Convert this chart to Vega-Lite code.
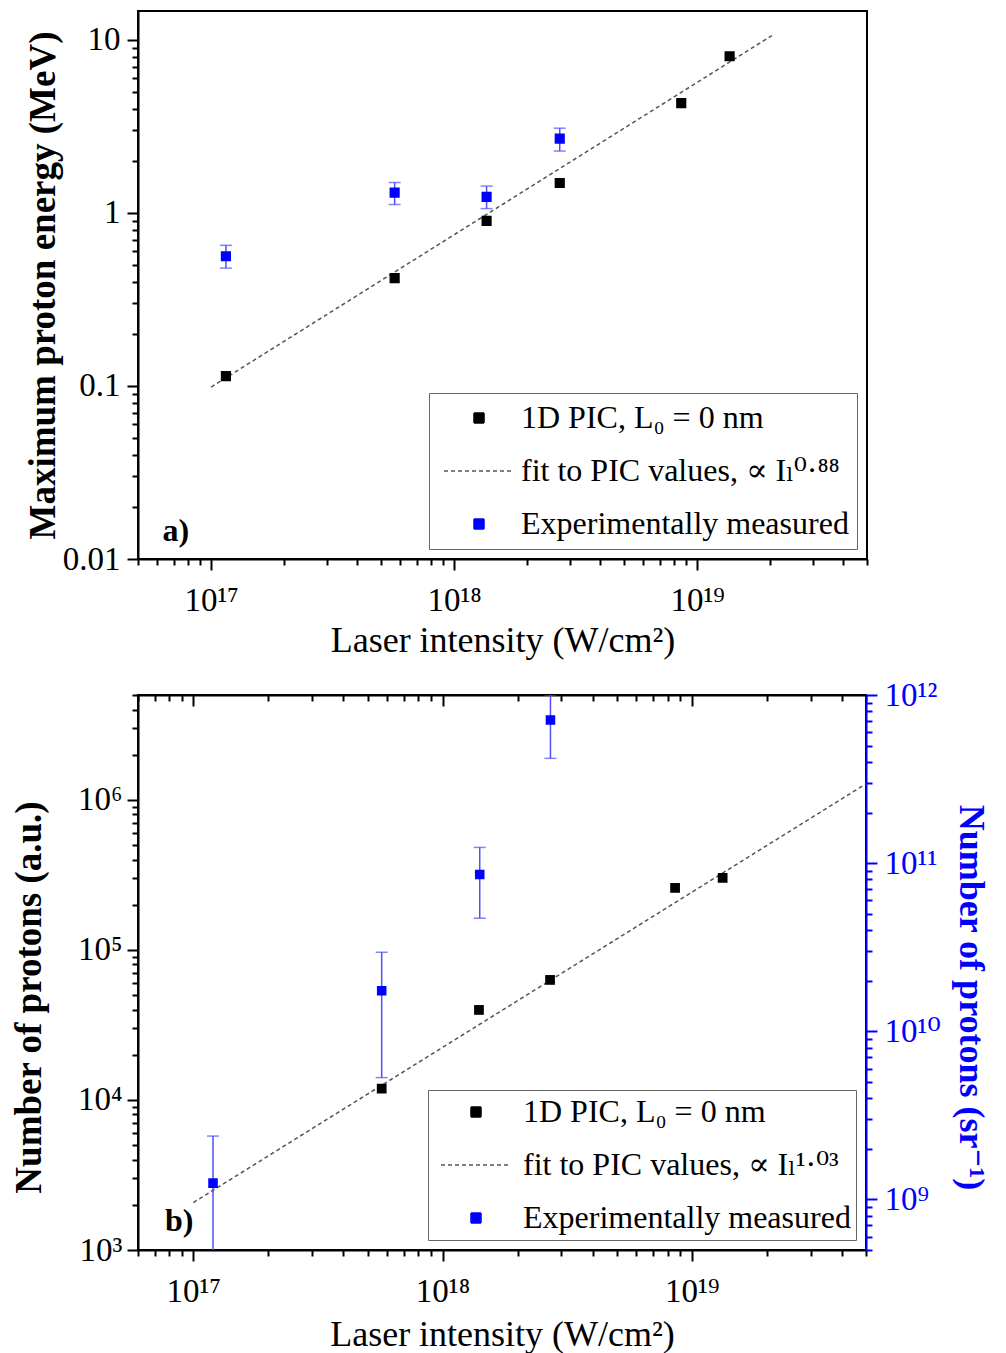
{
  "$schema": "https://vega.github.io/schema/vega-lite/v6.json",
  "padding": {"left": 9, "top": 10, "right": 12, "bottom": 0},
  "spacing": 19,
  "align": {"row": "none", "column": "each"},
  "resolve": {"scale": {"color": "independent", "stroke": "independent", "shape": "independent", "strokeDash": "independent"}, "legend": {"color": "independent", "stroke": "independent", "shape": "independent", "strokeDash": "independent"}},
  "config": {
    "font": "Liberation Serif, DejaVu Serif",
    "view": {"stroke": "black", "strokeWidth": 2},
    "axis": {
      "labelFont": "Liberation Serif, DejaVu Serif", "labelFontSize": 33, "labelColor": "black",
      "titleFont": "Liberation Serif, DejaVu Serif", "titleFontSize": 36, "titleColor": "black",
      "tickColor": "black", "tickWidth": 2, "domainColor": "black", "domainWidth": 2,
      "grid": false, "labelOverlap": false, "labelFlush": false, "labelBound": false
    },
    "legend": {"labelFont": "Liberation Serif, DejaVu Serif", "labelFontSize": 32, "labelColor": "black", "labelLimit": 600}
  },
  "datasets": {
    "top": [
      {"series": "pic", "intensity": 1.15e17, "value": 0.114},
      {"series": "pic", "intensity": 5.69e17, "value": 0.42},
      {"series": "pic", "intensity": 1.36e18, "value": 0.90},
      {"series": "pic", "intensity": 2.72e18, "value": 1.49},
      {"series": "pic", "intensity": 8.6e18, "value": 4.31},
      {"series": "pic", "intensity": 1.36e19, "value": 8.05},
      {"series": "exp", "intensity": 1.15e17, "value": 0.562, "lo": 0.48, "hi": 0.65},
      {"series": "exp", "intensity": 5.69e17, "value": 1.31, "lo": 1.12, "hi": 1.50},
      {"series": "exp", "intensity": 1.36e18, "value": 1.24, "lo": 1.06, "hi": 1.43},
      {"series": "exp", "intensity": 2.72e18, "value": 2.69, "lo": 2.28, "hi": 3.09},
      {"series": "fit", "intensity": 1e17, "value": 0.0986},
      {"series": "fit", "intensity": 2.03e19, "value": 10.6}
    ],
    "bottom": [
      {"series": "pic", "intensity": 5.7e17, "value": 11900},
      {"series": "pic", "intensity": 1.40e18, "value": 39800},
      {"series": "pic", "intensity": 2.70e18, "value": 63100},
      {"series": "pic", "intensity": 8.57e18, "value": 259000},
      {"series": "pic", "intensity": 1.33e19, "value": 302000},
      {"series": "exp", "intensity": 1.2e17, "value": 1.25e9, "lo": 1.2e8, "hi": 2.38e9},
      {"series": "exp", "intensity": 5.7e17, "value": 1.74e10, "lo": 5.3e9, "hi": 2.95e10},
      {"series": "exp", "intensity": 1.41e18, "value": 8.55e10, "lo": 4.7e10, "hi": 1.24e11},
      {"series": "exp", "intensity": 2.71e18, "value": 7.1e11, "lo": 4.2e11, "hi": 1.0e12},
      {"series": "fit", "intensity": 1e17, "value": 2070},
      {"series": "fit", "intensity": 5e19, "value": 1280000}
    ]
  },
  "vconcat": [
    {
      "width": 729,
      "height": 548,
      "data": {"name": "top"},
      "layer": [
        {
          "transform": [{"filter": "datum.series === 'fit'"}],
          "mark": {"type": "line", "color": "#555555", "strokeDash": [4, 3], "strokeWidth": 1.5},
          "encoding": {
            "x": {
              "field": "intensity", "type": "quantitative",
              "scale": {"type": "log", "domain": [5e16, 5e19], "nice": false},
              "axis": {
                "title": "Laser intensity (W/cm²)", "titleFontWeight": "normal", "titlePadding": 6,
                "values": [5e16, 6e16, 7e16, 8e16, 9e16, 1e17, 2e17, 3e17, 4e17, 5e17, 6e17, 7e17, 8e17, 9e17, 1e18, 2e18, 3e18, 4e18, 5e18, 6e18, 7e18, 8e18, 9e18, 1e19, 2e19, 3e19, 4e19, 5e19],
                "labelExpr": "abs(log(datum.value)/LN10 - round(log(datum.value)/LN10)) < 0.001 ? (round(log(datum.value)/LN10) == 17 ? '10¹⁷' : round(log(datum.value)/LN10) == 18 ? '10¹⁸' : '10¹⁹') : ''",
                "labelPadding": 14,
                "tickSize": {"expr": "abs(log(datum.value)/LN10 - round(log(datum.value)/LN10)) < 0.001 ? 11 : 6"}
              }
            },
            "y": {
              "field": "value", "type": "quantitative",
              "scale": {"type": "log", "domain": [0.01, 14.7], "nice": false},
              "axis": {
                "title": "Maximum proton energy (MeV)", "titleFontWeight": "bold", "titleFontSize": 37, "titlePadding": 0,
                "values": [0.01, 0.02, 0.03, 0.04, 0.05, 0.06, 0.07, 0.08, 0.09, 0.1, 0.2, 0.3, 0.4, 0.5, 0.6, 0.7, 0.8, 0.9, 1, 2, 3, 4, 5, 6, 7, 8, 9, 10],
                "labelExpr": "abs(log(datum.value)/LN10 - round(log(datum.value)/LN10)) < 0.001 ? (datum.value < 0.05 ? '0.01' : datum.value < 0.5 ? '0.1' : datum.value < 5 ? '1' : '10') : ''",
                "labelPadding": 7,
                "tickSize": {"expr": "abs(log(datum.value)/LN10 - round(log(datum.value)/LN10)) < 0.001 ? 11 : 6"}
              }
            }
          }
        },
        {
          "transform": [{"filter": "datum.series === 'exp'"}],
          "mark": {"type": "errorbar", "ticks": {"size": 12, "thickness": 1.5}, "color": "#4f4fff", "thickness": 1.5},
          "encoding": {
            "x": {"field": "intensity", "type": "quantitative", "title": "Laser intensity (W/cm²)"},
            "y": {"field": "lo", "type": "quantitative", "title": "Maximum proton energy (MeV)"},
            "y2": {"field": "hi"}
          }
        },
        {
          "transform": [{"filter": "datum.series !== 'fit'"}],
          "mark": {"type": "point", "filled": true, "size": 75, "strokeWidth": 1.5, "opacity": 1},
          "encoding": {
            "x": {"field": "intensity", "type": "quantitative", "title": "Laser intensity (W/cm²)"},
            "y": {"field": "value", "type": "quantitative", "title": "Maximum proton energy (MeV)"},
            "color": {
              "field": "series", "type": "nominal",
              "scale": {"domain": ["pic", "fit", "exp"], "range": ["black", "#555555", "blue"]},
              "legend": {
                "title": null, "orient": "bottom-right", "offset": 10, "padding": 8, "rowPadding": 19,
                "clipHeight": 34, "symbolSize": 100, "symbolStrokeWidth": 1.5, "symbolOffset": 26, "labelOffset": 26,
                "strokeColor": "#666666", "fillColor": "white",
                "labelExpr": "datum.value === 'pic' ? '1D PIC, L₀ = 0 nm' : datum.value === 'fit' ? 'fit to PIC values, ∝ Iₗ⁰·⁸⁸' : 'Experimentally measured'"
              }
            },
            "stroke": {
              "field": "series", "type": "nominal",
              "scale": {"domain": ["pic", "fit", "exp"], "range": ["black", "#555555", "blue"]},
              "legend": {"title": null, "orient": "bottom-right"}
            },
            "shape": {
              "field": "series", "type": "nominal",
              "scale": {"domain": ["pic", "fit", "exp"], "range": ["square", "M-7,0H7", "square"]},
              "legend": {"title": null, "orient": "bottom-right"}
            },
            "strokeDash": {
              "field": "series", "type": "nominal",
              "scale": {"domain": ["pic", "fit", "exp"], "range": [[1, 0], [4, 3], [1, 0]]},
              "legend": {"title": null, "orient": "bottom-right"}
            }
          }
        },
        {
          "data": {"values": [{"label": "a)"}]},
          "mark": {"type": "text", "fontSize": 32, "fontWeight": "bold", "align": "left", "baseline": "alphabetic", "color": "black"},
          "encoding": {
            "x": {"datum": 6.3e16, "type": "quantitative"},
            "y": {"datum": 0.0127, "type": "quantitative"},
            "text": {"field": "label"}
          }
        }
      ]
    },
    {
      "width": 728,
      "height": 555,
      "data": {"name": "bottom"},
      "resolve": {"scale": {"y": "independent"}, "axis": {"x": "independent"}},
      "layer": [
        {
          "layer": [
            {
              "transform": [{"filter": "datum.series === 'fit'"}],
              "mark": {"type": "line", "color": "#555555", "strokeDash": [4, 3], "strokeWidth": 1.5},
              "encoding": {
                "x": {
                  "field": "intensity", "type": "quantitative",
                  "scale": {"type": "log", "domain": [6e16, 5e19], "nice": false},
                  "axis": {
                    "title": "Laser intensity (W/cm²)", "titleFontWeight": "normal", "titlePadding": 9,
                    "values": [6e16, 7e16, 8e16, 9e16, 1e17, 2e17, 3e17, 4e17, 5e17, 6e17, 7e17, 8e17, 9e17, 1e18, 2e18, 3e18, 4e18, 5e18, 6e18, 7e18, 8e18, 9e18, 1e19, 2e19, 3e19, 4e19, 5e19],
                    "labelExpr": "abs(log(datum.value)/LN10 - round(log(datum.value)/LN10)) < 0.001 ? (round(log(datum.value)/LN10) == 17 ? '10¹⁷' : round(log(datum.value)/LN10) == 18 ? '10¹⁸' : '10¹⁹') : ''",
                    "labelPadding": 14,
                    "tickSize": {"expr": "abs(log(datum.value)/LN10 - round(log(datum.value)/LN10)) < 0.001 ? 11 : 6"}
                  }
                },
                "y": {
                  "field": "value", "type": "quantitative",
                  "scale": {"type": "log", "domain": [1000, 5000000], "nice": false},
                  "axis": {
                    "title": "Number of protons (a.u.)", "titleFontWeight": "bold", "titleFontSize": 37, "titlePadding": 29, "titleY": 302,
                    "values": [1000, 2000, 3000, 4000, 5000, 6000, 7000, 8000, 9000, 10000, 20000, 30000, 40000, 50000, 60000, 70000, 80000, 90000, 100000, 200000, 300000, 400000, 500000, 600000, 700000, 800000, 900000, 1000000, 2000000, 3000000, 4000000, 5000000],
                    "labelExpr": "abs(log(datum.value)/LN10 - round(log(datum.value)/LN10)) < 0.001 ? (round(log(datum.value)/LN10) == 3 ? '10³' : round(log(datum.value)/LN10) == 4 ? '10⁴' : round(log(datum.value)/LN10) == 5 ? '10⁵' : '10⁶') : ''",
                    "labelPadding": 5,
                    "tickSize": {"expr": "abs(log(datum.value)/LN10 - round(log(datum.value)/LN10)) < 0.001 ? 11 : 6"}
                  }
                }
              }
            },
            {
              "transform": [{"filter": "datum.series === 'pic'"}],
              "mark": {"type": "square", "size": 95, "opacity": 1, "color": "black"},
              "encoding": {
                "x": {"field": "intensity", "type": "quantitative", "title": "Laser intensity (W/cm²)"},
                "y": {"field": "value", "type": "quantitative", "title": "Number of protons (a.u.)"}
              }
            },
            {
              "data": {"values": [{"label": "b)"}]},
              "mark": {"type": "text", "fontSize": 32, "fontWeight": "bold", "align": "left", "baseline": "alphabetic", "color": "black"},
              "encoding": {
                "x": {"datum": 7.7e16, "type": "quantitative"},
                "y": {"datum": 1340, "type": "quantitative"},
                "text": {"field": "label"}
              }
            }
          ]
        },
        {
          "layer": [
            {
              "transform": [{"filter": "datum.series === 'exp'"}],
              "mark": {"type": "errorbar", "ticks": {"size": 12, "thickness": 1.5}, "color": "#4f4fff", "thickness": 1.5, "clip": true},
              "encoding": {
                "x": {"field": "intensity", "type": "quantitative", "title": null},
                "y": {"field": "lo", "type": "quantitative", "title": "Number of protons (sr⁻¹)"},
                "y2": {"field": "hi"}
              }
            },
            {
              "transform": [{"filter": "datum.series === 'exp'"}],
              "mark": {"type": "point", "filled": true, "size": 65, "strokeWidth": 1.5, "opacity": 1},
              "encoding": {
                "x": {
                  "field": "intensity", "type": "quantitative",
                  "axis": {
                    "orient": "top", "title": null, "labels": false,
                    "values": [6e16, 7e16, 8e16, 9e16, 1e17, 2e17, 3e17, 4e17, 5e17, 6e17, 7e17, 8e17, 9e17, 1e18, 2e18, 3e18, 4e18, 5e18, 6e18, 7e18, 8e18, 9e18, 1e19, 2e19, 3e19, 4e19, 5e19],
                    "tickSize": {"expr": "abs(log(datum.value)/LN10 - round(log(datum.value)/LN10)) < 0.001 ? -11 : -6"}
                  }
                },
                "y": {
                  "field": "value", "type": "quantitative",
                  "scale": {"type": "log", "domain": [5e8, 1e12], "nice": false},
                  "axis": {
                    "orient": "right", "title": "Number of protons (sr⁻¹)", "titleFontWeight": "bold", "titleFontSize": 36, "titlePadding": 11, "titleY": 302,
                    "titleColor": "blue", "labelColor": "blue", "tickColor": "blue", "domainColor": "blue",
                    "values": [5e8, 6e8, 7e8, 8e8, 9e8, 1e9, 2e9, 3e9, 4e9, 5e9, 6e9, 7e9, 8e9, 9e9, 1e10, 2e10, 3e10, 4e10, 5e10, 6e10, 7e10, 8e10, 9e10, 1e11, 2e11, 3e11, 4e11, 5e11, 6e11, 7e11, 8e11, 9e11, 1e12],
                    "labelExpr": "abs(log(datum.value)/LN10 - round(log(datum.value)/LN10)) < 0.001 ? (round(log(datum.value)/LN10) == 9 ? '10⁹' : round(log(datum.value)/LN10) == 10 ? '10¹⁰' : round(log(datum.value)/LN10) == 11 ? '10¹¹' : '10¹²') : ''",
                    "labelPadding": 7,
                    "tickSize": {"expr": "abs(log(datum.value)/LN10 - round(log(datum.value)/LN10)) < 0.001 ? 11 : 6"}
                  }
                },
                "color": {
                  "field": "series", "type": "nominal",
                  "scale": {"domain": ["pic", "fit", "exp"], "range": ["black", "#555555", "blue"]},
                  "legend": {
                    "title": null, "orient": "bottom-right", "offset": 10, "padding": 5, "rowPadding": 19,
                    "clipHeight": 34, "symbolSize": 100, "symbolStrokeWidth": 1.5, "symbolOffset": 27, "labelOffset": 31,
                    "strokeColor": "#666666", "fillColor": "white",
                    "labelExpr": "datum.value === 'pic' ? '1D PIC, L₀ = 0 nm' : datum.value === 'fit' ? 'fit to PIC values, ∝ Iₗ¹·⁰³' : 'Experimentally measured'"
                  }
                },
                "stroke": {
                  "field": "series", "type": "nominal",
                  "scale": {"domain": ["pic", "fit", "exp"], "range": ["black", "#555555", "blue"]},
                  "legend": {"title": null, "orient": "bottom-right"}
                },
                "shape": {
                  "field": "series", "type": "nominal",
                  "scale": {"domain": ["pic", "fit", "exp"], "range": ["square", "M-7,0H7", "square"]},
                  "legend": {"title": null, "orient": "bottom-right"}
                },
                "strokeDash": {
                  "field": "series", "type": "nominal",
                  "scale": {"domain": ["pic", "fit", "exp"], "range": [[1, 0], [4, 3], [1, 0]]},
                  "legend": {"title": null, "orient": "bottom-right"}
                }
              }
            }
          ]
        }
      ]
    }
  ]
}
